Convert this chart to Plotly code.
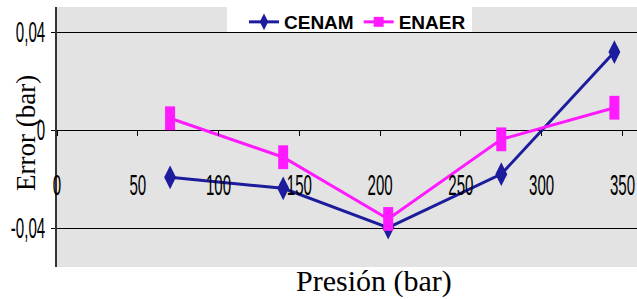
import plotly.graph_objects as go

presion = [70, 140, 205, 275, 345]
cenam = [-0.0193, -0.0238, -0.0398, -0.018, 0.0318]
enaer = [0.0048, -0.0111, -0.0363, -0.0038, 0.0091]

y_tickvals = [-0.04, 0, 0.04]
y_ticktext = ["-0,04", "0", "0,04"]
x_tickvals = [0, 50, 100, 150, 200, 250, 300, 350]
x_ticktext = ["0", "50", "100", "150", "200", "250", "300", "350"]

SANS = "Liberation Sans, Arial, sans-serif"
SERIF = "Liberation Serif, Times New Roman, serif"
BLUE = "#1c1c9c"
MAGENTA = "#ff1aff"

W, H = 637, 299
L, R, T, B = 57, 0, 7, 32
PW, PH = W - L - R, H - T - B


def px_x(p):
    return (p - L) / PW


def px_y(p):
    return (H - B - p) / PH


fig = go.Figure()
fig.add_trace(go.Scatter(
    x=presion, y=cenam, name="CENAM", mode="lines+markers", showlegend=False,
    legendgroup="c",
    line=dict(color=BLUE, width=3),
    marker=dict(symbol="diamond-tall", size=17, color=BLUE),
))
fig.add_trace(go.Scatter(
    x=presion, y=enaer, name="ENAER", mode="lines+markers", showlegend=False,
    legendgroup="e",
    line=dict(color=MAGENTA, width=3),
    marker=dict(symbol="line-ns", size=17, color=MAGENTA,
                line=dict(color=MAGENTA, width=10)),
))
# legend-only entries (no data drawn)
fig.add_trace(go.Scatter(
    x=[None], y=[None], name="CENAM", mode="lines+markers", legendgroup="c",
    line=dict(color=BLUE, width=3),
    marker=dict(symbol="diamond-tall", size=12, color=BLUE),
))
fig.add_trace(go.Scatter(
    x=[None], y=[None], name="ENAER", mode="lines+markers", legendgroup="e",
    line=dict(color=MAGENTA, width=3),
    marker=dict(symbol="square", size=10, color=MAGENTA),
))

y_lo, y_hi = -0.0559, 0.0502
zero_frac = (0 - y_lo) / (y_hi - y_lo)

fig.update_layout(
    width=W, height=H,
    margin=dict(l=L, r=R, t=T, b=B),
    paper_bgcolor="white", plot_bgcolor="#e3e3e3",
    showlegend=True,
    legend=dict(
        orientation="h", x=px_x(244), y=px_y(3), xanchor="left", yanchor="top",
        bgcolor="rgba(0,0,0,0)", borderwidth=0, tracegroupgap=0,
        font=dict(family=SANS, size=19, color="black", weight="bold"),
    ),
    shapes=[
        dict(type="rect", xref="paper", yref="paper", layer="above",
             x0=px_x(227), x1=px_x(472), y0=px_y(32), y1=px_y(7),
             fillcolor="white", line=dict(width=0)),
    ],
    xaxis=dict(
        range=[0, 359], tickvals=x_tickvals, ticktext=x_ticktext,
        showgrid=False, zeroline=False, showline=False, automargin=False,
        anchor="free", position=zero_frac,
        ticks="outside", ticklen=5, tickcolor="black", tickwidth=1,
        ticklabelstandoff=24, ticklabeloverflow="allow",
        tickfont=dict(family=SANS, size=29, color="black"),
    ),
    yaxis=dict(
        range=[y_lo, y_hi], tickvals=y_tickvals, ticktext=y_ticktext,
        showgrid=True, gridcolor="black", gridwidth=1, automargin=False,
        zeroline=True, zerolinecolor="black", zerolinewidth=1,
        showline=True, linecolor="#333333", linewidth=2,
        ticks="outside", ticklen=4, tickcolor="black", ticklabeloverflow="allow",
        tickfont=dict(family=SANS, size=29, color="black"),
    ),
    annotations=[
        dict(text="Presión (bar)", xref="paper", yref="paper",
             x=px_x(374), y=px_y(281), xanchor="center", yanchor="middle",
             showarrow=False, font=dict(family=SERIF, size=30, color="black")),
        dict(text="Error (bar)", xref="paper", yref="paper", textangle=-90,
             x=px_x(26), y=px_y(133), xanchor="center", yanchor="middle",
             showarrow=False, font=dict(family=SERIF, size=27, color="black")),
    ],
)

post = """
document.documentElement.style.margin = '0';
document.body.style.margin = '0';
document.body.style.overflow = 'hidden';
var gd = document.getElementById('{plot_id}');
function squeeze() {
  gd.querySelectorAll('.xtick text, .ytick text').forEach(function(t) {
    if (t.getAttribute('data-sq')) return;
    var w = t.getComputedTextLength();
    t.setAttribute('textLength', (w * 0.52).toFixed(2));
    t.setAttribute('lengthAdjust', 'spacingAndGlyphs');
    t.setAttribute('data-sq', '1');
  });
}
squeeze();
if (gd.on) gd.on('plotly_afterplot', squeeze);
"""

fig.write_html("out.html", post_script=post, config={"displayModeBar": False})
